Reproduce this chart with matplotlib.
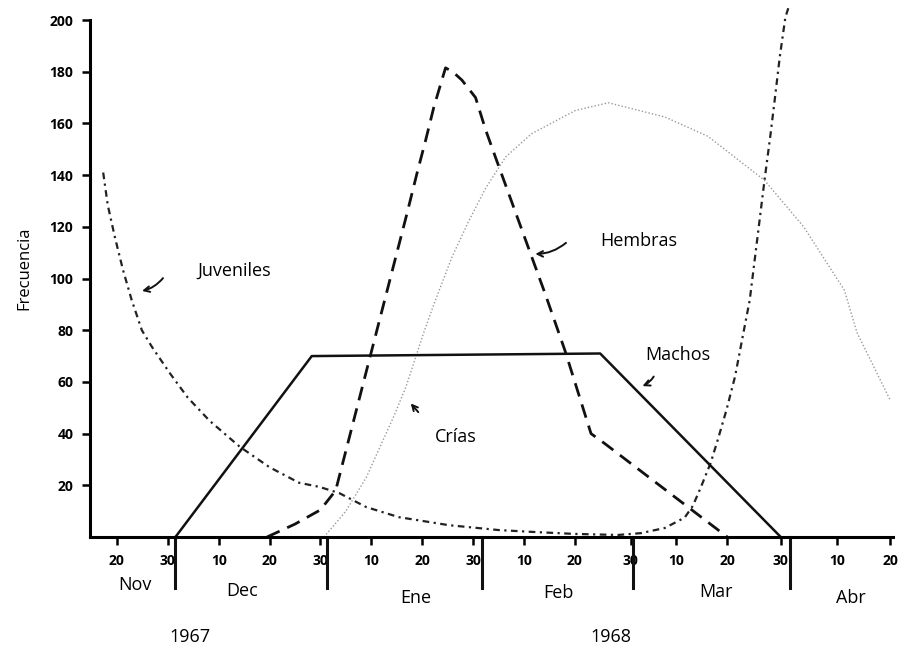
import matplotlib
matplotlib.use("Agg")
import matplotlib.pyplot as plt

# dias contados desde el 20 de noviembre de 1967
machos_x = [11.5, 38.3, 95.0, 130.5]
machos_y = [0, 70, 71, 0]

hembras_x = [29.5, 35, 40, 43, 49.8, 57, 59, 60.7, 62.3, 63.7, 64.6, 66, 67.8, 70.5, 72.5,
             74.4, 84.2, 88.1, 93.2, 96, 120]
hembras_y = [0, 5, 10.5, 18, 70, 125, 140.8, 153.6, 166.3, 175.6, 181.5, 180, 176.8, 170, 157.4,
             147, 94, 72, 40, 36, 0]

crias_x = [40.7, 45, 49, 54.5, 56.8, 58.8, 60.3, 62.3, 65.8, 69.1, 72.5, 76.4, 81.5, 90.1,
           96.6, 107.7, 116.2, 127.3, 135, 143, 145.5, 152]
crias_y = [0, 10, 23, 47, 58, 70, 79, 90, 108, 122, 135, 147, 156, 165,
           168, 162.5, 155, 138, 120, 95.5, 79, 53]

juv_x = [-2.7, -1.8, -0.4, 1.2, 2.9, 4.9, 6.9, 10.4, 13.9, 18.2, 24.1, 30, 35.8, 39.8,
         43.7, 49, 55.4, 65.2, 75, 81.5, 90, 98.5, 103, 107.7, 111.6, 113.2, 114.8, 116.7,
         118.1, 119.8, 121.5, 123, 124.4, 127.3, 128.5, 129.3, 130.3, 131.4, 132.2]
juv_y = [141, 128.4, 116, 103.3, 91.7, 80, 73.5, 63.4, 54, 45, 35, 27, 21, 19.4,
         17, 11.6, 7.7, 4.6, 2.7, 2, 1.2, 0.8, 1.5, 3.5, 7.5, 12, 19.3, 28.6,
         37.5, 49, 62, 77.4, 91.7, 138, 156, 169, 185.7, 201, 206]

tick_pos = [0, 10, 20, 30, 40, 50, 60, 70, 80, 90, 101, 110, 120, 130.5, 141.5, 152]
tick_lab = ['20', '30', '10', '20', '30', '10', '20', '30', '10', '20', '30', '10', '20', '30', '10', '20']

meses = ['Nov', 'Dec', 'Ene', 'Feb', 'Mar', 'Abr']
meses_x = [3.5, 24.7, 58.8, 86.8, 117.7, 144.2]
meses_y = [-18.6, -20.9, -23.6, -21.7, -21.3, -23.6]
limites = [11.5, 41.3, 71.7, 101.5, 132.4]

plt.rcParams['font.family'] = ['Open Sans', 'DejaVu Sans']

fig = plt.figure(figsize=(9.05, 6.5), dpi=100)
ax = fig.add_axes([0.0994, 0.1738, 0.887, 0.826])

ax.plot(juv_x, juv_y, color='#222222', linewidth=1.6, linestyle=(0, (3, 2, 1, 2)), clip_on=False)
ax.plot(crias_x, crias_y, color='#999999', linewidth=1.0, linestyle=(0, (1, 1.5)))
ax.plot(hembras_x, hembras_y, color='#111111', linewidth=2.0, linestyle=(0, (5, 3)))
ax.plot(machos_x, machos_y, color='#111111', linewidth=1.8)

ax.set_xlim(-5.3, 152.5)
ax.set_ylim(0, 207.7)
ax.spines['top'].set_visible(False)
ax.spines['right'].set_visible(False)
ax.spines['left'].set_bounds(0, 200)
ax.spines['left'].set_linewidth(2.2)
ax.spines['bottom'].set_linewidth(2.2)

ax.set_yticks(range(20, 201, 20))
ax.set_yticklabels([str(v) for v in range(20, 201, 20)], fontsize=10, fontweight='bold')
ax.set_xticks(tick_pos)
ax.set_xticklabels(tick_lab, fontsize=10, fontweight='bold')
ax.tick_params(axis='both', direction='out', length=6, width=1.8, pad=6)

ax.set_ylabel('Frecuencia', fontsize=12, labelpad=12)

# meses y años bajo el eje
trans = ax.get_xaxis_transform()
for b in limites:
    ax.plot([b, b], [0, -0.095], transform=trans, color='#111111', linewidth=2.2, clip_on=False)
for m, mx, my in zip(meses, meses_x, meses_y):
    ax.text(mx, my, m, fontsize=13, ha='center', va='center', clip_on=False)
ax.text(14.3, -38.7, '1967', fontsize=13, ha='center', va='center')
ax.text(97, -38.7, '1968', fontsize=13, ha='center', va='center')

# etiquetas de las curvas
arrow = dict(arrowstyle='->', color='#111111', linewidth=1.4, connectionstyle='arc3,rad=-0.2')
ax.annotate('', xy=(4.4, 95), xytext=(9.4, 101), arrowprops=arrow)
ax.text(23, 103, 'Juveniles', fontsize=13, ha='center', va='center')
ax.annotate('', xy=(81.7, 109.5), xytext=(88.7, 114.5), arrowprops=arrow)
ax.text(102.5, 114.5, 'Hembras', fontsize=13, ha='center', va='center')
ax.annotate('', xy=(102.8, 58), xytext=(105.8, 63), arrowprops=arrow)
ax.text(110.3, 70.4, 'Machos', fontsize=13, ha='center', va='center')
ax.annotate('', xy=(57.4, 52.5), xytext=(59.6, 47.5),
            arrowprops=dict(arrowstyle='->', color='#111111', linewidth=1.4))
ax.text(66.6, 38.7, 'Crías', fontsize=13, ha='center', va='center')

fig.savefig('out.png', dpi=100)
